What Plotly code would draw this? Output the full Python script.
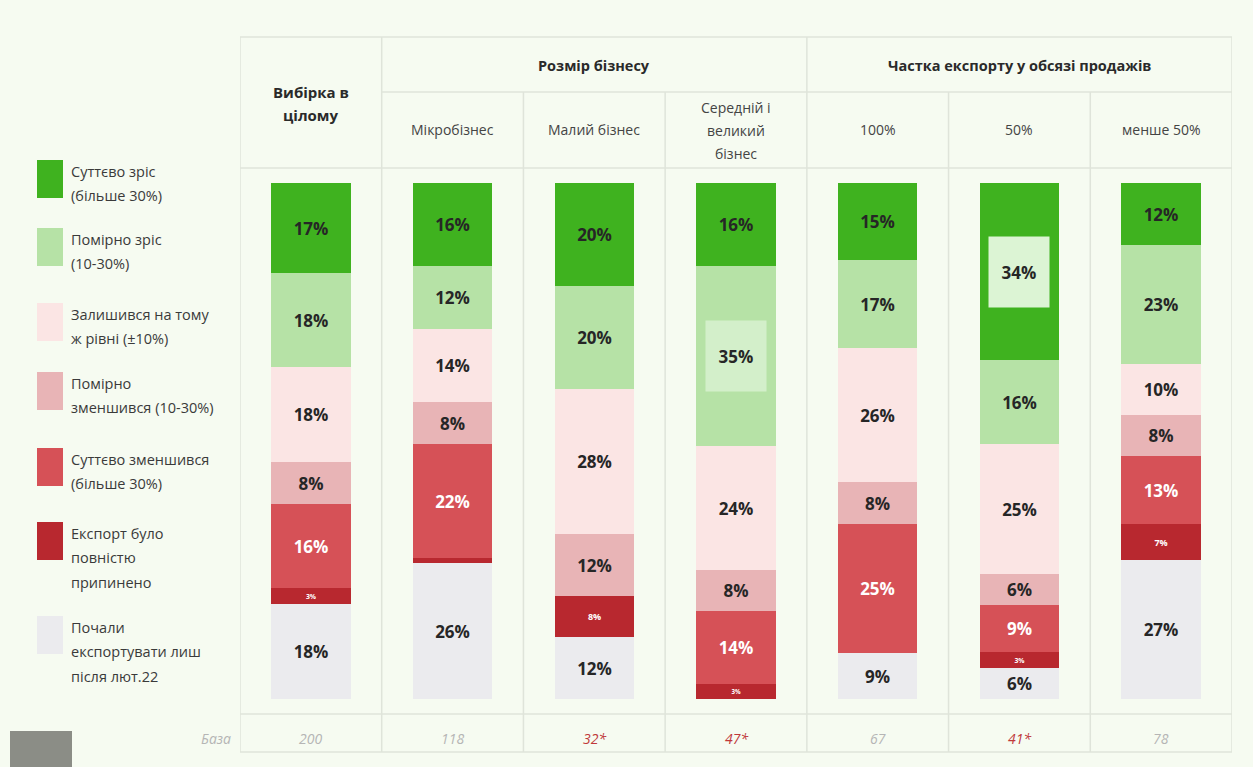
import plotly.graph_objects as go

# ---------------- data ----------------
categories = ["Вибірка в цілому", "Мікробізнес", "Малий бізнес",
              "Середній і великий бізнес", "100%", "50%", "менше 50%"]
group_headers = ["Розмір бізнесу", "Частка експорту у обсязі продажів"]

series_names = ["Суттєво зріс (більше 30%)", "Помірно зріс (10-30%)",
                "Залишився на тому ж рівні (±10%)", "Помірно зменшився (10-30%)",
                "Суттєво зменшився (більше 30%)", "Експорт було повністю припинено",
                "Почали експортувати лиш після лют.22"]
legend_lines = [["Суттєво зріс", "(більше 30%)"],
                ["Помірно зріс", "(10-30%)"],
                ["Залишився на тому", "ж рівні (±10%)"],
                ["Помірно", "зменшився (10-30%)"],
                ["Суттєво зменшився", "(більше 30%)"],
                ["Експорт було", "повністю", "припинено"],
                ["Почали", "експортувати лиш", "після лют.22"]]
header_lines = {0: ["Вибірка в", "цілому"], 3: ["Середній і", "великий", "бізнес"]}

strong_growth     = [17, 16, 20, 16, 15, 34, 12]
moderate_growth   = [18, 12, 20, 35, 17, 16, 23]
same_level        = [18, 14, 28, 24, 26, 25, 10]
moderate_decrease = [8, 8, 12, 8, 8, 6, 8]
strong_decrease   = [16, 22, 0, 14, 25, 9, 13]
export_stopped    = [3, 1, 8, 3, 0, 3, 7]
started_after     = [18, 26, 12, 0, 9, 6, 27]

base_n = [200, 118, 32, 47, 67, 41, 78]
base_label = "База"

# ---------------- style ----------------
W, H = 1253, 767
BG = "#f6fbf1"
GRID = "#dfe4da"
FONT = "Open Sans"
colors = ["#3fb21f", "#b6e2a6", "#fbe5e4", "#e8b4b6", "#d65157", "#b8282f", "#ebebee"]
text_colors = ["#262626", "#262626", "#262626", "#262626", "#ffffff", "#ffffff", "#262626"]
all_series = [strong_growth, moderate_growth, same_level, moderate_decrease,
              strong_decrease, export_stopped, started_after]
highlight = {(1, 3): "#d3efca", (0, 5): "#dcf4d4"}  # (series, column) labels with a box


def py(px):
    return 1 - px / H


def pxx(px):
    return px / W


def note(x, y, text, size, color, xref="x", xanchor="center", **kw):
    return dict(x=x, y=y, xref=xref, yref="paper", showarrow=False, text=text,
                xanchor=xanchor, yanchor="middle",
                font=dict(family=FONT, size=size, color=color), **kw)


x_idx = list(range(len(categories)))
fig = go.Figure()
annotations = []
shapes = []

for s, (name, vals) in enumerate(zip(series_names, all_series)):
    small = s == 5
    texts = []
    for c, v in enumerate(vals):
        if v < 2 or (s, c) in highlight:
            texts.append("")
        else:
            texts.append(f"{v}%")
    fig.add_trace(go.Bar(
        x=x_idx, y=vals, name=name, marker=dict(color=colors[s], line=dict(width=0)),
        width=0.56, text=texts, textposition="inside", insidetextanchor="middle",
        textangle=0,
        textfont=dict(family=FONT, size=9 if small else 17, color=text_colors[s],
                      weight="bold"),
        hoverinfo="skip", showlegend=False,
    ))

# highlighted labels with a light box
for (s, c), bg in highlight.items():
    totals = sum(ser[c] for ser in all_series)
    start = sum(all_series[k][c] for k in range(s))
    mid = (start + all_series[s][c] / 2) / totals * 100
    annotations.append(dict(x=c, y=mid, xref="x", yref="y", text=f"{all_series[s][c]}%",
                            xanchor="center", yanchor="middle",
                            showarrow=False, bgcolor=bg, width=58, height=68,
                            font=dict(family=FONT, size=17, color="#262626", weight="bold")))

# ---------------- table grid ----------------
top, grp, hdr, btop, bbot = 37, 92, 168, 714, 752
n = len(categories)
line = dict(color=GRID, width=1.5)
for k in range(n + 1):
    y0 = grp if k in (2, 3, 5, 6) else top
    shapes.append(dict(type="line", xref="x", yref="paper", x0=k - 0.5, x1=k - 0.5,
                       y0=py(y0), y1=py(bbot), line=line, layer="below"))
for yy, x0 in [(top, -0.5), (grp, 0.5), (hdr, -0.5), (btop, -0.5), (bbot, -0.5)]:
    shapes.append(dict(type="line", xref="x", yref="paper", x0=x0, x1=n - 0.5,
                       y0=py(yy), y1=py(yy), line=line, layer="below"))

# headers
for i, t in enumerate(header_lines[0]):
    annotations.append(note(0, py(92 + 23 * i), f"<b>{t}</b>", 15, "#2a2a2a"))
annotations.append(note(2, py(65), f"<b>{group_headers[0]}</b>", 14.5, "#2a2a2a"))
annotations.append(note(5, py(65), f"<b>{group_headers[1]}</b>", 14.5, "#2a2a2a"))
for c in range(1, n):
    if c in header_lines:
        for i, t in enumerate(header_lines[c]):
            annotations.append(note(c, py(107 + 23 * i), t, 14, "#444444"))
    else:
        annotations.append(note(c, py(129), categories[c], 14, "#444444"))

# base row
annotations.append(note(pxx(233), py(738), f"<i>{base_label}</i>", 14, "#b5b5b5",
                        xref="paper", xanchor="right"))
for c, nb in enumerate(base_n):
    low = nb < 50
    annotations.append(note(c, py(738), f"<i>{nb}{'*' if low else ''}</i>", 14,
                            "#c0393b" if low else "#b5b5b5"))

# ---------------- custom legend ----------------
sq_top = [160, 228, 303, 372, 448, 522, 616]
for s, lines in enumerate(legend_lines):
    t = sq_top[s]
    shapes.append(dict(type="rect", xref="paper", yref="paper", x0=pxx(37), x1=pxx(63),
                       y0=py(t), y1=py(t + 38), fillcolor=colors[s], line=dict(width=0)))
    for i, ln in enumerate(lines):
        annotations.append(note(pxx(69), py(t + 11 + 24.5 * i), ln, 14.5, "#3a3a3a",
                                xref="paper", xanchor="left"))

# grey block at bottom-left
shapes.append(dict(type="rect", xref="paper", yref="paper", x0=pxx(10), x1=pxx(72),
                   y0=py(767), y1=py(731), fillcolor="#8b8d86", line=dict(width=0)))

fig.update_layout(
    width=W, height=H, margin=dict(l=0, r=0, t=0, b=0),
    paper_bgcolor=BG, plot_bgcolor=BG,
    barmode="stack", barnorm="percent", bargap=0,
    xaxis=dict(domain=[pxx(240), pxx(1232)], range=[-0.5, n - 0.5], visible=False,
               fixedrange=True),
    yaxis=dict(domain=[py(699), py(183)], range=[100, 0], visible=False, fixedrange=True),
    shapes=shapes, annotations=annotations,
    font=dict(family=FONT), uniformtext=dict(mode=False),
)

fig.write_html("out.html")
